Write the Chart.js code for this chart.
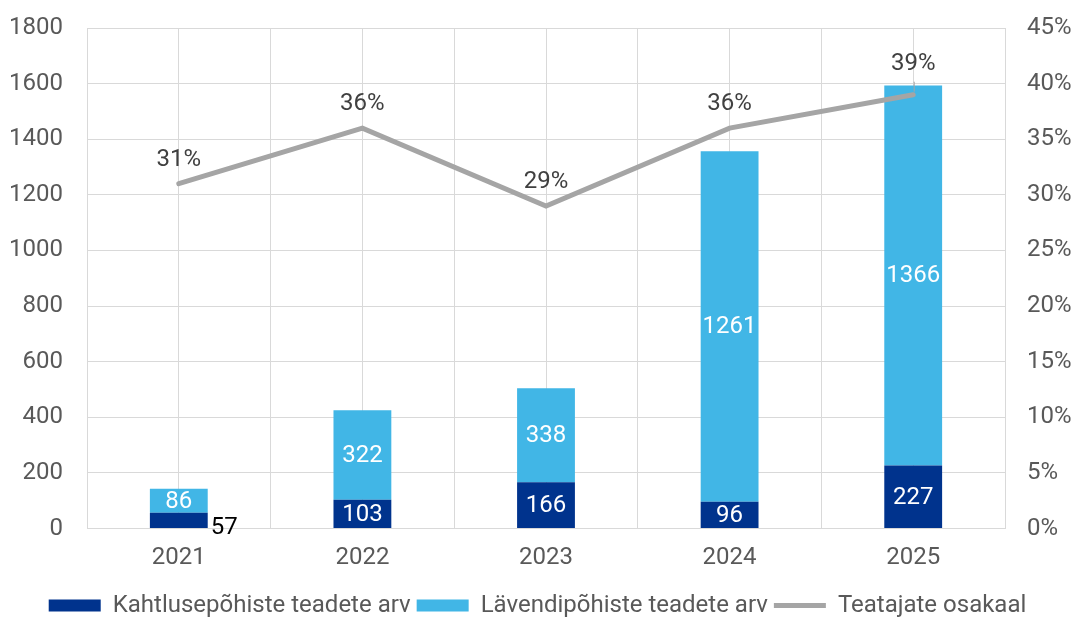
<!DOCTYPE html>
<html>
<head>
<meta charset="utf-8">
<script src="https://cdn.jsdelivr.net/npm/chart.js@4"></script>
<style>
  html, body { margin: 0; padding: 0; background: #fff; }
  #wrap { width: 1075px; height: 622px; }
</style>
</head>
<body>
<div id="wrap"><canvas id="chart"></canvas></div>
<script>
// Data
var years = ["2021", "2022", "2023", "2024", "2025"];
var suspicionReports = [57, 103, 166, 96, 227];
var thresholdReports = [86, 322, 338, 1261, 1366];
var reporterShare = [31, 36, 29, 36, 39];

var labelNames = ["Kahtlusepõhiste teadete arv", "Lävendipõhiste teadete arv", "Teatajate osakaal"];

var FONT = "Roboto";
var gridColor = "#D9D9D9";
var tickColor = "#595959";

// draw the value labels on bars and line points
var valueLabels = {
  id: "valueLabels",
  afterDatasetsDraw: function(chart) {
    var ctx = chart.ctx;
    ctx.save();
    ctx.font = "24px " + FONT;
    ctx.textAlign = "center";
    ctx.textBaseline = "middle";
    [0, 1].forEach(function(di) {
      var meta = chart.getDatasetMeta(di);
      meta.data.forEach(function(bar, i) {
        var v = chart.data.datasets[di].data[i];
        if (di === 0 && i === 0) {
          // small segment: label sits outside, bottom right
          ctx.fillStyle = "#000";
          ctx.textAlign = "left";
          ctx.fillText(v, bar.x + bar.width / 2 + 3, bar.base);
          ctx.textAlign = "center";
          return;
        }
        ctx.fillStyle = "#fff";
        ctx.fillText(v, bar.x, (bar.y + bar.base) / 2 + 1);
      });
    });
    var lm = chart.getDatasetMeta(2);
    ctx.fillStyle = "#404040";
    lm.data.forEach(function(pt, i) {
      var off = (i === 4) ? 31 : 24;
      if (i === 4) {
        ctx.strokeStyle = "#A5A5A5";
        ctx.lineWidth = 1;
        ctx.beginPath();
        ctx.moveTo(pt.x + 1, pt.y - 3);
        ctx.lineTo(pt.x + 1, pt.y - 13);
        ctx.stroke();
      }
      ctx.fillText(reporterShare[i] + "%", pt.x, pt.y - off);
    });
    ctx.restore();
  }
};

var gridLabels = [];
for (var g = 0; g <= years.length * 2; g++) gridLabels.push("");

new Chart(document.getElementById("chart").getContext("2d"), {
  type: "bar",
  data: {
    labels: years,
    datasets: [
      {
        label: labelNames[0],
        data: suspicionReports,
        backgroundColor: "#00338D",
        borderWidth: 0,
        barPercentage: 1,
        categoryPercentage: 0.315,
        yAxisID: "y",
        order: 1,
        pointStyle: "rect"
      },
      {
        label: labelNames[1],
        data: thresholdReports,
        backgroundColor: "#41B6E6",
        borderWidth: 0,
        barPercentage: 1,
        categoryPercentage: 0.315,
        yAxisID: "y",
        order: 1,
        pointStyle: "rect"
      },
      {
        type: "line",
        label: labelNames[2],
        data: reporterShare,
        borderColor: "#A5A5A5",
        backgroundColor: "#A5A5A5",
        borderWidth: 5,
        pointRadius: 0,
        tension: 0,
        borderCapStyle: "round",
        yAxisID: "y1",
        order: 0,
        pointStyle: "line"
      }
    ]
  },
  options: {
    responsive: true,
    maintainAspectRatio: false,
    animation: false,
    layout: { padding: { top: 28, left: 0, right: 0, bottom: -5.5 } },
    plugins: {
      tooltip: { enabled: false },
      legend: {
        position: "bottom",
        labels: {
          usePointStyle: true,
          pointStyleWidth: 52,
          boxHeight: 12,
          padding: 6,
          color: tickColor,
          font: { family: FONT, size: 24 },
          sort: function(a, b) { return a.datasetIndex - b.datasetIndex; }
        }
      }
    },
    scales: {
      x: {
        stacked: true,
        grid: { display: false, drawTicks: false },
        border: { display: false },
        ticks: { color: tickColor, font: { family: FONT, size: 24 }, padding: 15 },
        afterFit: function(s) { s.height = 59; }
      },
      xg: {
        type: "category",
        labels: gridLabels,
        offset: false,
        position: "bottom",
        grid: { color: gridColor, lineWidth: 1, drawTicks: false, offset: false },
        border: { display: false },
        ticks: { display: false },
        afterFit: function(s) { s.height = 0; }
      },
      y: {
        stacked: true,
        min: 0,
        max: 1800,
        position: "left",
        ticks: {
          stepSize: 200,
          color: tickColor,
          font: { family: FONT, size: 24 },
          padding: 0,
          callback: function(v) { return String(v); }
        },
        // invisible tick marks push the labels away from the plot
        grid: { color: gridColor, lineWidth: 1, drawTicks: true, tickLength: 24, tickColor: "rgba(0,0,0,0)" },
        border: { display: false },
        afterFit: function(s) { s.width = 87; }
      },
      y1: {
        min: 0,
        max: 45,
        position: "right",
        ticks: {
          stepSize: 5,
          color: tickColor,
          font: { family: FONT, size: 24 },
          padding: 0,
          callback: function(v) { return v + "%"; }
        },
        grid: { display: false, drawTicks: true, tickLength: 22, tickColor: "rgba(0,0,0,0)" },
        border: { display: false },
        afterFit: function(s) { s.width = 70; }
      }
    }
  },
  plugins: [valueLabels]
});
</script>
</body>
</html>
